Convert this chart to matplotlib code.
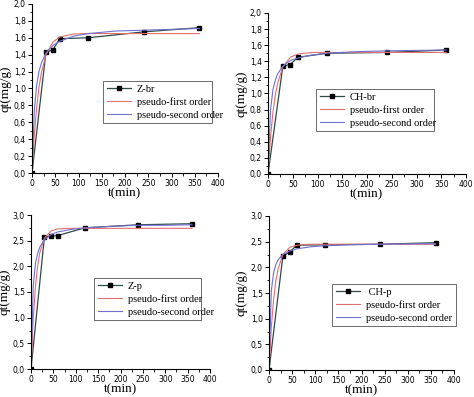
import matplotlib
matplotlib.use('Agg')
import matplotlib.pyplot as plt
from matplotlib.ticker import MultipleLocator, FuncFormatter

# experimental points
t_exp = [0, 30, 45, 60, 120, 240, 360]
q_zbr = [0, 1.43, 1.46, 1.59, 1.60, 1.67, 1.72]
q_chbr = [0, 1.34, 1.36, 1.45, 1.50, 1.51, 1.54]
q_zp = [0, 2.57, 2.59, 2.60, 2.75, 2.81, 2.83]
q_chp = [0, 2.22, 2.30, 2.43, 2.44, 2.45, 2.48]

# fitted curves
t_fit = [0, 5, 10, 15, 20, 30, 45, 60, 90, 120, 180, 240, 300, 360]
pfo_zbr = [0, 0.45, 0.77, 1.01, 1.18, 1.40, 1.55, 1.61, 1.645, 1.65, 1.65, 1.65, 1.65, 1.65]
pso_zbr = [0, 0.74, 1.04, 1.20, 1.30, 1.42, 1.51, 1.56, 1.62, 1.65, 1.68, 1.69, 1.70, 1.71]
pfo_chbr = [0, 0.45, 0.77, 0.99, 1.14, 1.33, 1.45, 1.49, 1.51, 1.51, 1.51, 1.51, 1.51, 1.51]
pso_chbr = [0, 0.79, 1.05, 1.17, 1.25, 1.34, 1.41, 1.44, 1.48, 1.50, 1.52, 1.53, 1.535, 1.54]
pfo_zp = [0, 0.98, 1.61, 2.02, 2.28, 2.55, 2.69, 2.73, 2.74, 2.74, 2.74, 2.74, 2.74, 2.74]
pso_zp = [0, 1.61, 2.06, 2.26, 2.38, 2.52, 2.62, 2.67, 2.72, 2.75, 2.78, 2.80, 2.80, 2.81]
pfo_chp = [0, 0.83, 1.38, 1.75, 1.98, 2.25, 2.39, 2.43, 2.45, 2.45, 2.45, 2.45, 2.45, 2.45]
pso_chp = [0, 1.54, 1.90, 2.06, 2.15, 2.25, 2.32, 2.36, 2.40, 2.42, 2.44, 2.45, 2.455, 2.46]

serif = 'Liberation Serif'
W, H = 474, 397

fig = plt.figure(figsize=(4.74, 3.97), dpi=100)

def px_rect(x0, x1, ytop, ybot):
    return [x0 / W, 1 - ybot / H, (x1 - x0) / W, (ybot - ytop) / H]

panels = [
    # axes box (px), name, exp, pfo, pso, ymax, ystep, legend box (px), ylabel right edge (px)
    (px_rect(32, 218, 4, 173), 'Z-br', q_zbr, pfo_zbr, pso_zbr, 2.0, 0.2, (103, 212, 81), 12),
    (px_rect(268, 466, 13, 174), 'CH-br', q_chbr, pfo_chbr, pso_chbr, 2.0, 0.2, (316, 434, 89), 247),
    (px_rect(31, 210, 215, 369), 'Z-p', q_zp, pfo_zp, pso_zp, 3.0, 0.5, (94, 201, 278), 11),
    (px_rect(269, 454, 216, 370), ' CH-p', q_chp, pfo_chp, pso_chp, 3.0, 0.5, (332, 456, 284), 247),
]

comma = FuncFormatter(lambda v, p: ('%.1f' % v).replace('.', ','))

for rect, name, qe, pfo, pso, ymax, ystep, lbox, ylx in panels:
    ax = fig.add_axes(rect)
    ax.plot(t_exp, qe, color='#2f4a48', lw=0.9, marker='s', ms=3.5,
            mfc='black', mec='black', label=name)
    ax.plot(t_fit, pfo, color='#e07070', lw=0.8, label='pseudo-first order')
    ax.plot(t_fit, pso, color='#7070d0', lw=0.8, label='pseudo-second order')

    ax.set_xlim(0, 400)
    ax.set_ylim(0, ymax)
    ax.xaxis.set_major_locator(MultipleLocator(50))
    ax.xaxis.set_minor_locator(MultipleLocator(25))
    ax.yaxis.set_major_locator(MultipleLocator(ystep))
    ax.yaxis.set_minor_locator(MultipleLocator(ystep / 2))
    ax.yaxis.set_major_formatter(comma)
    ax.spines['top'].set_visible(False)
    ax.spines['right'].set_visible(False)
    for s in ('left', 'bottom'):
        ax.spines[s].set_linewidth(0.8)
    ax.tick_params(which='major', length=3, width=0.7, labelsize=5.5, pad=1.5)
    ax.tick_params(which='minor', length=1.8, width=0.6)
    ax.set_xlabel('t(min)', fontfamily=serif, fontsize=9.5, labelpad=-0.5)
    ax.set_ylabel('qt(mg/g)', fontfamily=serif, fontsize=9.5)
    x0px = rect[0] * W
    ax.yaxis.set_label_coords((ylx - x0px) / (rect[2] * W), 0.5)

    bx0, bx1, bytop = lbox
    leg = ax.legend(loc='upper left',
                    bbox_to_anchor=(bx0 / W, 1 - bytop / H, (bx1 - bx0) / W, 0.001),
                    bbox_transform=fig.transFigure, mode='expand',
                    prop={'family': serif, 'size': 7.5}, frameon=True, fancybox=False,
                    edgecolor='#444444', handlelength=2.3, borderpad=0.35,
                    labelspacing=0.35, handletextpad=0.6, borderaxespad=0)
    leg.get_frame().set_linewidth(0.7)

fig.savefig('out.png', dpi=100)
